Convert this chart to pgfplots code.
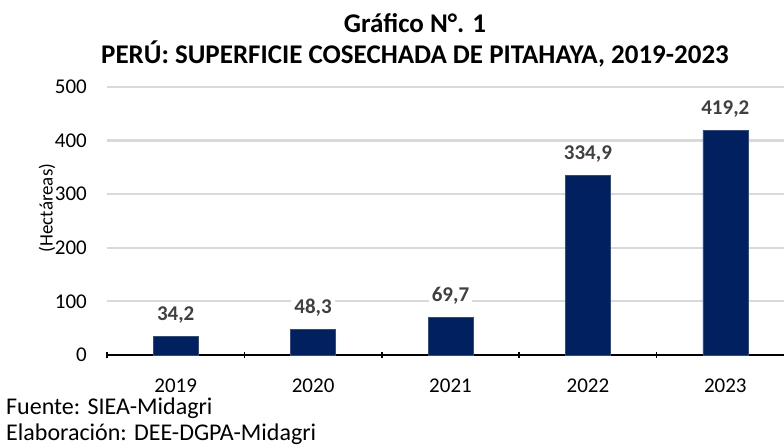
\documentclass[border=0pt]{standalone}
\usepackage{pgfplots}
\pgfplotsset{compat=1.18}
\usepackage{fontspec}
\setmainfont{Carlito}
\definecolor{barblue}{HTML}{002060}
\definecolor{lblgray}{HTML}{404040}
\definecolor{gridgray}{HTML}{D9D9D9}
\begin{document}
\begin{tikzpicture}
\begin{axis}[
  scale only axis,
  width=677bp, height=268bp,
  xmin=-0.5, xmax=4.427,
  ymin=0, ymax=500,
  ytick={0,100,...,500},
  xtick={0,1,2,3,4},
  xticklabels={2019,2020,2021,2022,2023},
  minor xtick={-0.5,0.5,1.5,2.5,3.5},
  major tick length=0pt,
  minor tick length=6bp,
  minor x tick style={draw=black, line width=1.5bp},
  tick align=outside,
  axis x line=bottom,
  axis y line=left,
  axis line style={-},
  x axis line style={line width=1.5bp, black},
  y axis line style={draw=none},
  ymajorgrids=true,
  major grid style={draw=gridgray, line width=2.2bp},
  tick label style={font=\fontsize{21bp}{24bp}\selectfont, inner sep=0pt},
  yticklabel style={anchor=east, xshift=-20bp},
  xticklabel style={anchor=base, yshift=-37bp},
  /pgf/number format/assume math mode=true,
  clip=false,
]
\addplot[ybar, bar width=45bp, fill=barblue, draw=barblue!80!white,
  nodes near coords,
  nodes near coords style={font=\fontsize{21bp}{24bp}\selectfont\bfseries, text=lblgray, fill=white, anchor=base, inner xsep=3bp, inner ysep=1bp, yshift=16bp},
  point meta=explicit symbolic]
  table[meta=lab] {
x y lab
0 34.2 {34,2}
1 48.3 {48,3}
2 69.7 {69,7}
3 334.9 {334,9}
4 419.2 {419,2}
};
\coordinate (O) at (rel axis cs:0,0);
\end{axis}
\pgfresetboundingbox
\path (O) ++(-107bp,-91bp) rectangle ++(784bp,446bp);
\node[font=\fontsize{27bp}{30bp}\selectfont\bfseries, anchor=base, inner sep=0pt] at ([shift={(308bp,322bp)}]O) {Gráfico N°. 1};
\node[font=\fontsize{27bp}{30bp}\selectfont\bfseries, anchor=base, inner sep=0pt] at ([shift={(308bp,291bp)}]O) {PERÚ: SUPERFICIE COSECHADA DE PITAHAYA, 2019-2023};
\node[font=\fontsize{19bp}{22bp}\selectfont, rotate=90, inner sep=0pt] at ([shift={(-60bp,147bp)}]O) {(Hectáreas)};
\node[font=\fontsize{24bp}{27bp}\selectfont, anchor=base west, inner sep=0pt] at ([shift={(-101bp,-59bp)}]O) {Fuente: SIEA-Midagri};
\node[font=\fontsize{24bp}{27bp}\selectfont, anchor=base west, inner sep=0pt] at ([shift={(-101bp,-85bp)}]O) {Elaboración: DEE-DGPA-Midagri};
\end{tikzpicture}
\end{document}
